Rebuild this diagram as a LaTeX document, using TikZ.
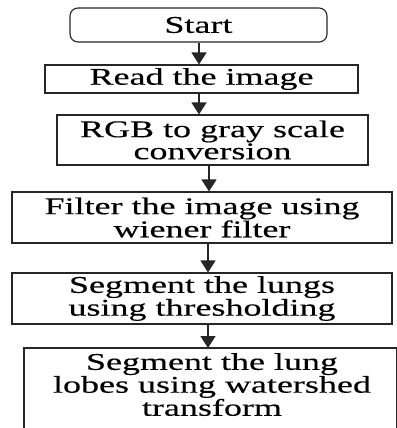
\documentclass[tikz,border=0pt]{standalone}
\usepackage{fontspec}
\newfontfamily\tnr[FakeStretch=1.5,FakeBold=0.3]{Liberation Serif}
\usetikzlibrary{arrows.meta}
\begin{document}
\begin{tikzpicture}[x=1pt,y=-1pt,
  box/.style={draw=black!85, line width=1.1pt, rectangle, inner sep=0pt, align=center,
    font=\tnr\fontsize{24}{20}\selectfont},
  txt/.style={inner sep=0pt, align=center, font=\tnr\fontsize{24}{20}\selectfont},
  flow/.style={draw=black!85, line width=1.3pt, -{Triangle[length=12pt,width=15pt]}}]
\useasboundingbox (0,0) rectangle (396,428);
\node[box, rounded corners=8pt, minimum width=257pt, minimum height=34pt] (start) at (198.5,25) {Start};
\node[box, minimum width=313pt, minimum height=28pt] (read) at (201.5,79) {Read the image};
\node[box, minimum width=311pt, minimum height=50pt] (rgb) at (212.5,140) {RGB to gray scale\\conversion};
\node[box, minimum width=380pt, minimum height=51pt] (filter) at (202,217.5) {Filter the image using\\wiener filter};
\node[box, minimum width=380pt, minimum height=51pt] (seg) at (202,298.5) {Segment the lungs\\using thresholding};
\draw[draw=black!85, line width=1.1pt] (24,348) rectangle (396.5,460);
\coordinate (lobestop) at (208,348);
\node[txt, anchor=north] (lobes) at (212,353) {Segment the lung\\lobes using watershed\\transform};
\draw[flow] ([xshift=0.5pt]start.south) -- ([xshift=0.5pt]start.south |- read.north);
\draw[flow] ([xshift=-2.5pt]read.south) -- ([xshift=-2.5pt]read.south |- rgb.north);
\draw[flow] ([xshift=-3.5pt]rgb.south) -- ([xshift=-3.5pt]rgb.south |- filter.north);
\draw[flow] ([xshift=6pt]filter.south) -- ([xshift=6pt]filter.south |- seg.north);
\draw[flow] ([xshift=6pt]seg.south) -- (lobestop);
\end{tikzpicture}
\end{document}
